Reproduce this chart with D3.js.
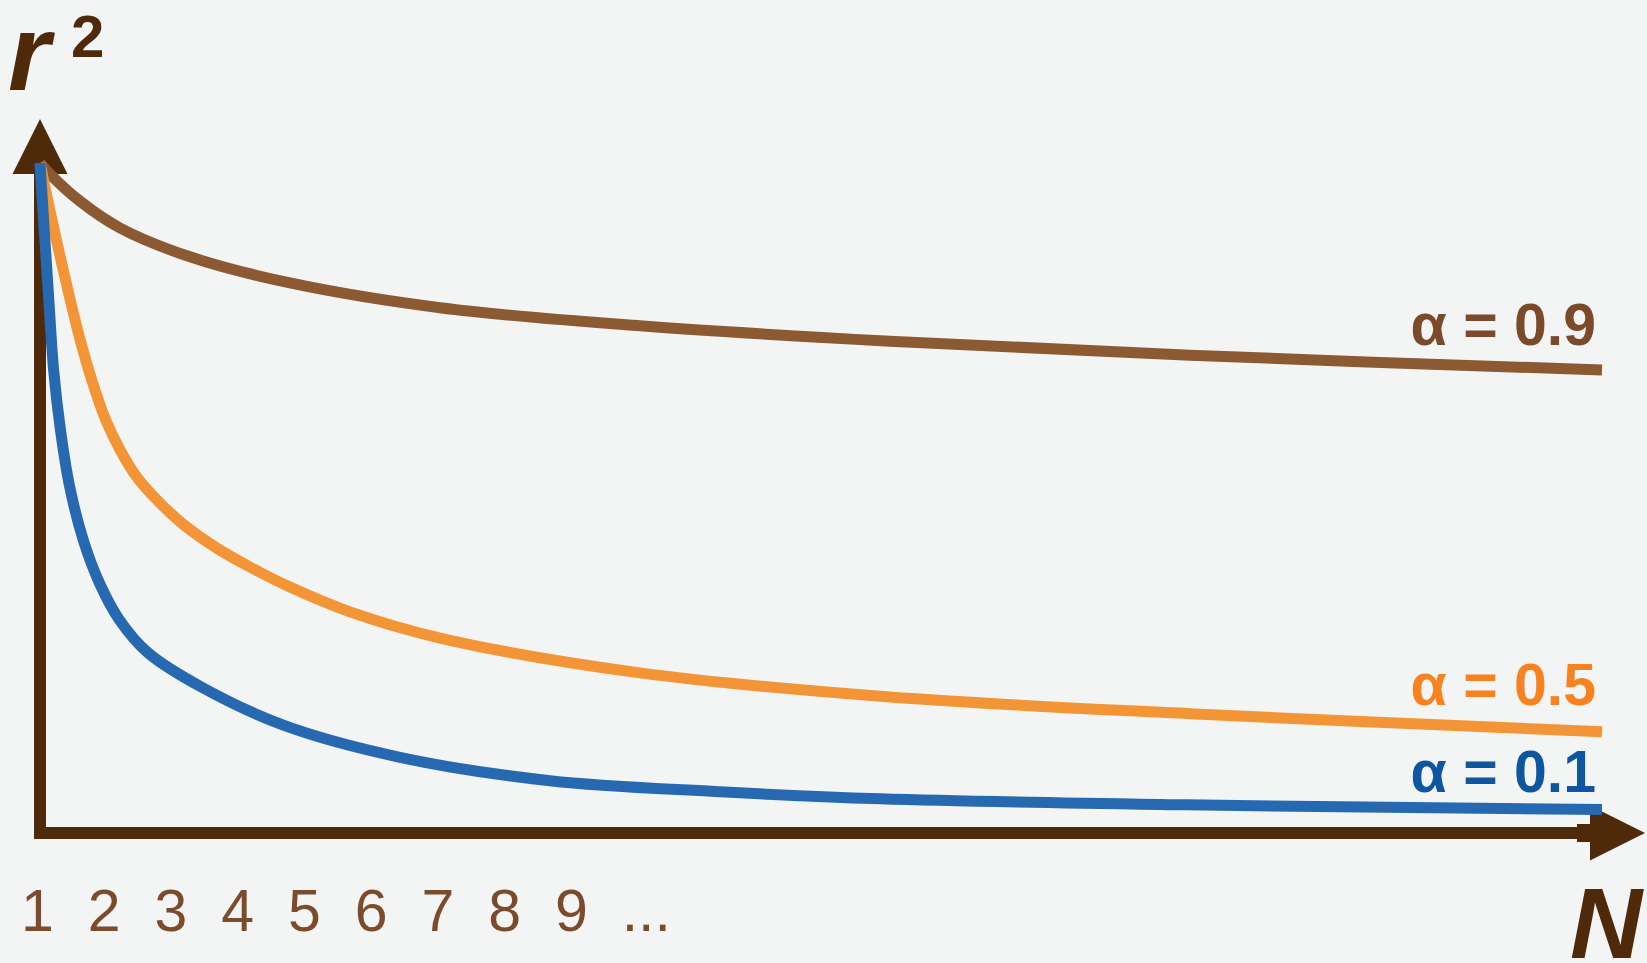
<!DOCTYPE html>
<html>
<head>
<meta charset="utf-8">
<script src="https://cdn.jsdelivr.net/npm/d3@7/dist/d3.min.js"></script>
<style>
  html, body { margin: 0; padding: 0; background: #f3f4f4; }
  svg { display: block; }
  text { font-family: "Liberation Sans", Arial, sans-serif; }
</style>
</head>
<body>
<svg id="chart" width="1647" height="963"></svg>
<script>
// r² against the number of averaged values N, one curve per correlation level α
const nAlpha09  = [1, 1.105, 1.599, 2.199, 3.247, 4.745, 6.993, 9.989, 13.734, 18.228, 24.4];
const r2Alpha09 = [1.0, 0.988, 0.943, 0.903, 0.860, 0.821, 0.784, 0.757, 0.734, 0.713, 0.691];

const nAlpha05  = [1, 1.15, 1.3, 1.449, 1.599, 1.779, 1.974, 2.199, 2.453, 2.753, 3.142, 3.652,
                   4.146, 4.745, 5.644, 6.993, 9.989, 13.734, 18.228, 24.4];
const r2Alpha05 = [1.0, 0.928, 0.861, 0.797, 0.737, 0.675, 0.619, 0.572, 0.531, 0.497, 0.461, 0.425,
                   0.397, 0.367, 0.330, 0.291, 0.239, 0.203, 0.178, 0.151];

const nAlpha01  = [1, 1.064, 1.132, 1.204, 1.307, 1.442, 1.652, 1.891, 2.184, 2.618, 3.397,
                   4.645, 6.393, 8.64, 11.112, 13.599, 18.169, 24.4];
const r2Alpha01 = [1.0, 0.899, 0.796, 0.691, 0.601, 0.518, 0.436, 0.373, 0.319, 0.269, 0.219,
                   0.161, 0.113, 0.078, 0.062, 0.051, 0.042, 0.035];

const seriesNames = ["α = 0.9", "α = 0.5", "α = 0.1"];
const lineColors  = ["#8b5a33", "#f39536", "#2769b0"];
const labelColors = ["#7a4a2a", "#f7821f", "#0e56a0"];

// Tick labels along N
const tickValues = [1, 2, 3, 4, 5, 6, 7, 8, 9, 10];
const tickLabels = ["1", "2", "3", "4", "5", "6", "7", "8", "9", "..."];

const svg = d3.select("#chart");
const axisColor = "#4e2a0b";

const x = d3.scaleLinear().domain([1, 24.4]).range([40, 1602]);
const y = d3.scaleLinear().domain([0, 1]).range([833, 163]);

const x0 = x(1), y0 = y(0), xEnd = x(24.4), yTop = y(1);

// Axes with arrowheads
const ax = svg.append("g");
ax.append("line")
  .attr("x1", x0).attr("y1", y0 + 6)
  .attr("x2", x0).attr("y2", yTop + 10)
  .attr("stroke", axisColor).attr("stroke-width", 12);
ax.append("path")
  .attr("d", `M${x0},${yTop - 44} L${x0 + 27.5},${yTop + 11} L${x0 - 27.5},${yTop + 11} Z`)
  .attr("fill", axisColor);
ax.append("line")
  .attr("x1", x0 - 6).attr("y1", y0)
  .attr("x2", xEnd - 11).attr("y2", y0)
  .attr("stroke", axisColor).attr("stroke-width", 12);
ax.append("rect")
  .attr("x", xEnd - 25).attr("y", y0 - 9)
  .attr("width", 15).attr("height", 18)
  .attr("fill", axisColor);
ax.append("path")
  .attr("d", `M${xEnd + 43},${y0} L${xEnd - 12},${y0 - 27.5} L${xEnd - 12},${y0 + 27.5} Z`)
  .attr("fill", axisColor);

// Tick labels below the N axis
const xAxis = d3.axisBottom(x)
  .tickValues(tickValues)
  .tickSize(0)
  .tickPadding(0)
  .tickFormat((d, i) => tickLabels[i]);
const gx = svg.append("g").attr("transform", `translate(0,${y0})`).call(xAxis);
gx.select(".domain").remove();
gx.selectAll("text")
  .attr("y", 98)
  .attr("dy", 0)
  .attr("dx", (d, i) => i === tickLabels.length - 1 ? 5 : -3)
  .attr("fill", "#7b4b2c")
  .style("font-family", '"Liberation Sans", Arial, sans-serif')
  .style("font-size", "59px");

// Curves, drawn so that the α = 0.1 curve sits on top
const series = [
  nAlpha09.map((n, j) => [n, r2Alpha09[j]]),
  nAlpha05.map((n, j) => [n, r2Alpha05[j]]),
  nAlpha01.map((n, j) => [n, r2Alpha01[j]])
];
const line = d3.line()
  .x(d => x(d[0]))
  .y(d => y(d[1]))
  .curve(d3.curveCatmullRom.alpha(0.5));

series.forEach((pts, i) => {
  svg.append("path")
    .datum(pts)
    .attr("d", line)
    .attr("fill", "none")
    .attr("stroke", lineColors[i])
    .attr("stroke-width", 11)
    .attr("stroke-linecap", "butt")
    .attr("stroke-linejoin", "round");
});

// Series labels, right aligned above each curve end
const labelBaselines = [345, 705, 792];
seriesNames.forEach((name, i) => {
  svg.append("text")
    .attr("x", 1596)
    .attr("y", labelBaselines[i])
    .attr("text-anchor", "end")
    .attr("fill", labelColors[i])
    .style("font-weight", "bold")
    .style("font-size", "59px")
    .text(name);
});

// Axis titles
const yTitle = svg.append("text")
  .attr("x", 8).attr("y", 90)
  .attr("fill", axisColor)
  .style("font-weight", "bold");
yTitle.append("tspan")
  .style("font-style", "italic")
  .style("font-size", "108px")
  .text("r");
yTitle.append("tspan")
  .attr("x", 71).attr("y", 57)
  .style("font-size", "60px")
  .text("2");

svg.append("text")
  .attr("x", 1570).attr("y", 958)
  .attr("fill", axisColor)
  .style("font-weight", "bold")
  .style("font-style", "italic")
  .style("font-size", "100px")
  .text("N");
</script>
</body>
</html>
